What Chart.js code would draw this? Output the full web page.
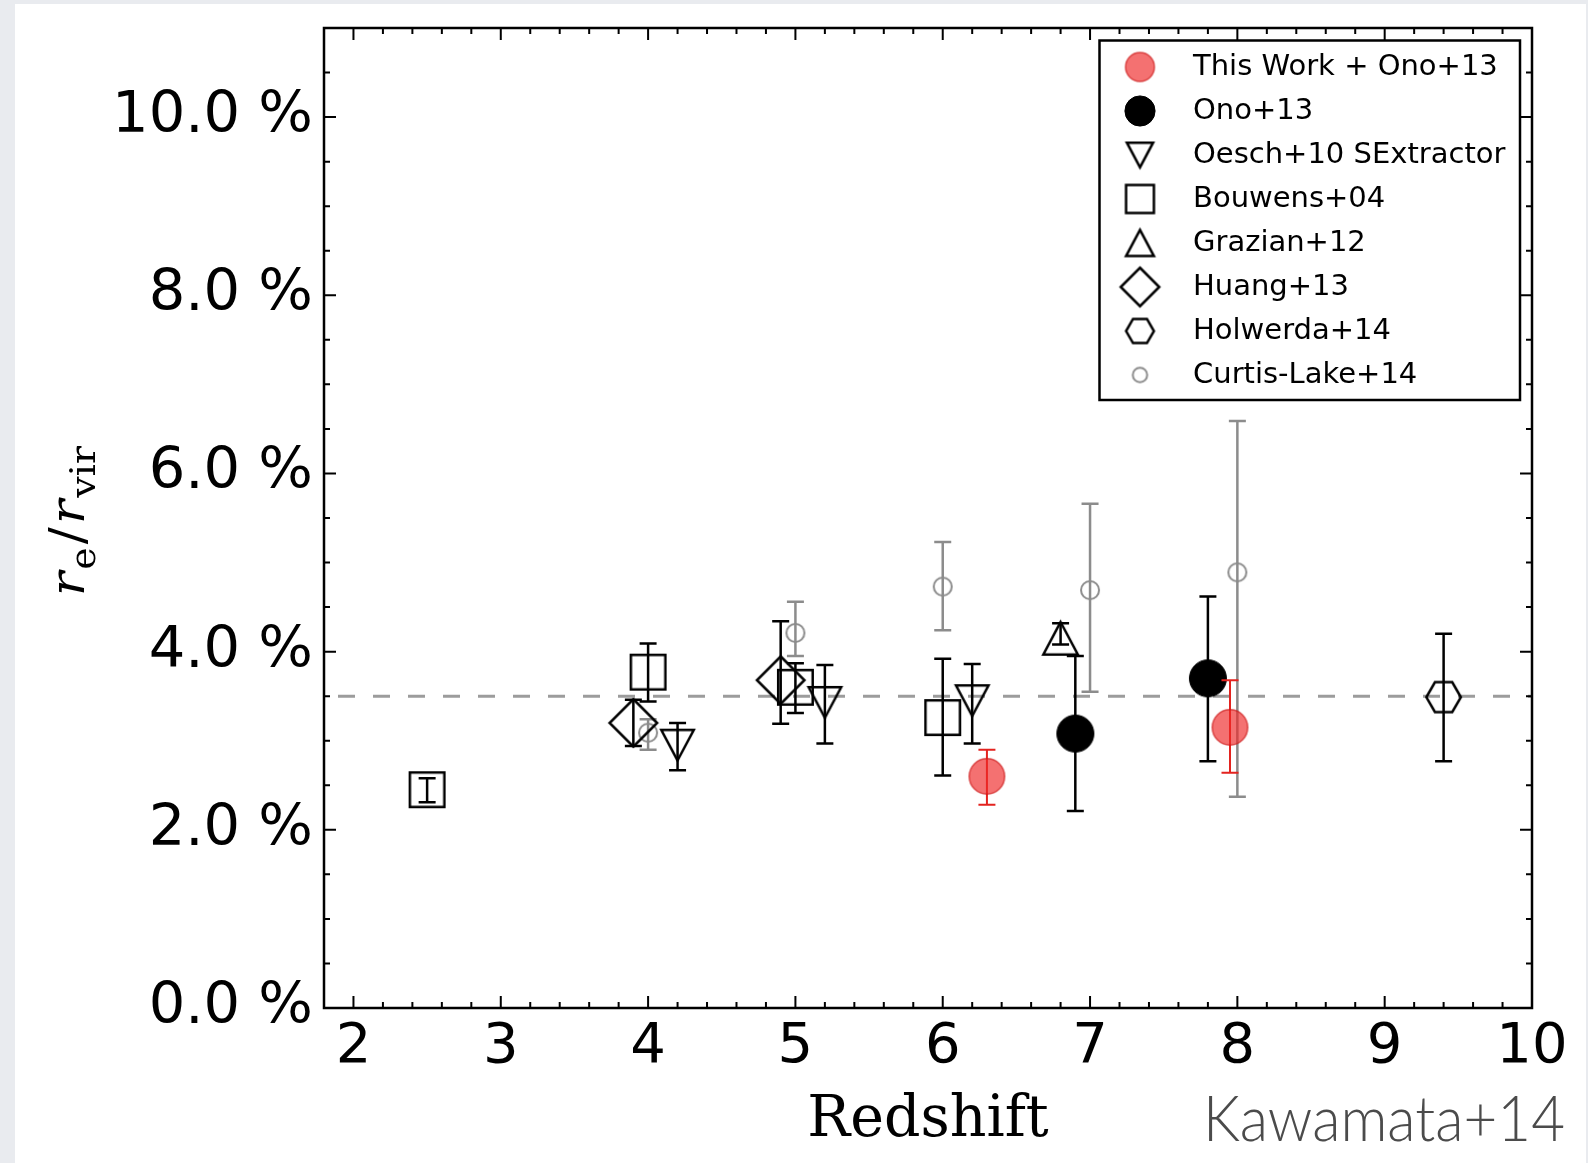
<!DOCTYPE html>
<html>
<head>
<meta charset="utf-8">
<script src="https://cdn.jsdelivr.net/npm/chart.js@4.4.1/dist/chart.umd.min.js"></script>
<style>
  html, body { margin: 0; padding: 0; background: #e9ebef; }
  #panel { position: absolute; left: 15px; top: 4px; width: 1571px; height: 1159px; background: #ffffff; }
  #chart { position: absolute; left: 0; top: 0; }
</style>
</head>
<body>
<div id="panel"></div>
<canvas id="chart" width="1588" height="1163"></canvas>
<script>
// r_e / r_vir (per cent) against redshift; lo/hi are the ends of each error bar.
const thisWorkZ  = [6.3, 7.95];
const thisWorkR  = [2.60, 3.15];
const thisWorkLo = [2.28, 2.64];
const thisWorkHi = [2.90, 3.68];

const onoZ  = [6.9, 7.8];
const onoR  = [3.08, 3.70];
const onoLo = [2.21, 2.77];
const onoHi = [3.95, 4.62];

const oeschZ  = [4.2, 5.2, 6.2];
const oeschR  = [2.95, 3.43, 3.45];
const oeschLo = [2.67, 2.97, 2.97];
const oeschHi = [3.20, 3.85, 3.86];

const bouwensZ  = [2.5, 4.0, 5.0, 6.0];
const bouwensR  = [2.45, 3.77, 3.60, 3.26];
const bouwensLo = [2.31, 3.44, 3.31, 2.61];
const bouwensHi = [2.58, 4.09, 3.87, 3.92];

const grazianZ  = [6.8];
const grazianR  = [4.15];
const grazianLo = [4.08];
const grazianHi = [4.32];

const huangZ  = [3.9, 4.9];
const huangR  = [3.20, 3.68];
const huangLo = [2.94, 3.19];
const huangHi = [3.46, 4.34];

const holwerdaZ  = [9.4];
const holwerdaR  = [3.49];
const holwerdaLo = [2.77];
const holwerdaHi = [4.20];

const curtisZ  = [4.0, 5.0, 6.0, 7.0, 8.0];
const curtisR  = [3.09, 4.21, 4.73, 4.69, 4.89];
const curtisLo = [2.90, 3.95, 4.24, 3.55, 2.37];
const curtisHi = [3.24, 4.56, 5.23, 5.66, 6.59];

// horizontal reference level and axis ranges
const refLevel = 3.5;
const zRange = [1.8, 10];
const rRange = [0, 11];

const legendLabels = [
  'This Work + Ono+13', 'Ono+13', 'Oesch+10 SExtractor', 'Bouwens+04',
  'Grazian+12', 'Huang+13', 'Holwerda+14', 'Curtis-Lake+14'
];

// ---- marker glyphs, drawn once onto small canvases ----
function makeMarker(shape, size, st) {
  const lw = st.lineWidth || 0;
  const dim = Math.ceil(size + 6);
  const cv = document.createElement('canvas');
  cv.width = dim; cv.height = dim;
  const g = cv.getContext('2d');
  g.translate(dim / 2, dim / 2);
  const r = (size - lw) / 2;
  g.beginPath();
  if (shape === 'circle') {
    g.arc(0, 0, r, 0, Math.PI * 2);
  } else if (shape === 'square') {
    g.rect(-r, -r, 2 * r, 2 * r);
  } else if (shape === 'diamond') {
    g.moveTo(0, -r); g.lineTo(r, 0); g.lineTo(0, r); g.lineTo(-r, 0); g.closePath();
  } else if (shape === 'triUp') {
    const h = r * 0.94;
    g.moveTo(0, -h); g.lineTo(r, h); g.lineTo(-r, h); g.closePath();
  } else if (shape === 'triDown') {
    const h = r * 0.94;
    g.moveTo(0, h); g.lineTo(r, -h); g.lineTo(-r, -h); g.closePath();
  } else if (shape === 'hexagon') {
    for (let k = 0; k < 6; k++) {
      const a = k * Math.PI / 3;
      const px = r * Math.cos(a), py = r * Math.sin(a);
      if (k === 0) g.moveTo(px, py); else g.lineTo(px, py);
    }
    g.closePath();
  }
  if (st.fill) { g.fillStyle = st.fill; g.fill(); }
  if (st.stroke) {
    g.lineWidth = lw; g.strokeStyle = st.stroke; g.lineJoin = 'miter'; g.stroke();
  }
  return cv;
}

const styles = [
  { shape: 'circle',  size: 37, st: { fill: 'rgba(238,40,40,0.66)', stroke: 'rgba(205,25,25,0.7)', lineWidth: 1.5 } },
  { shape: 'circle',  size: 38, st: { fill: '#000', stroke: '#000', lineWidth: 1 } },
  { shape: 'triDown', size: 35, st: { stroke: '#000', lineWidth: 2.5 } },
  { shape: 'square',  size: 37, st: { stroke: '#000', lineWidth: 2.5 } },
  { shape: 'triUp',   size: 37, st: { stroke: '#000', lineWidth: 2.5 } },
  { shape: 'diamond', size: 50, st: { stroke: '#000', lineWidth: 2.5 } },
  { shape: 'hexagon', size: 37, st: { stroke: '#000', lineWidth: 2.5 } },
  { shape: 'circle',  size: 20, st: { stroke: '#8c8c8c', lineWidth: 2 } }
];
const plotMarkers = styles.map(s => makeMarker(s.shape, s.size, s.st));
const legendMarkers = styles.map(s => makeMarker(s.shape, s.size * 0.82, s.st));

function points(zs, rs) { return zs.map((z, i) => ({ x: z, y: rs[i] })); }

function series(idx, zs, rs, lo, hi, errColor, errWidth) {
  return {
    label: legendLabels[idx],
    data: points(zs, rs),
    errLow: lo, errHigh: hi, errColor: errColor, errWidth: errWidth,
    pointStyle: plotMarkers[idx],
    pointRadius: styles[idx].size / 2,
    pointHoverRadius: styles[idx].size / 2,
    showLine: false
  };
}

const datasets = [
  series(0, thisWorkZ, thisWorkR, thisWorkLo, thisWorkHi, '#e3231f', 2),
  series(1, onoZ, onoR, onoLo, onoHi, '#000', 2.5),
  series(2, oeschZ, oeschR, oeschLo, oeschHi, '#000', 2.5),
  series(3, bouwensZ, bouwensR, bouwensLo, bouwensHi, '#000', 2.5),
  series(4, grazianZ, grazianR, grazianLo, grazianHi, '#000', 2.5),
  series(5, huangZ, huangR, huangLo, huangHi, '#000', 2.5),
  series(6, holwerdaZ, holwerdaR, holwerdaLo, holwerdaHi, '#000', 2.5),
  series(7, curtisZ, curtisR, curtisLo, curtisHi, '#8c8c8c', 2.5),
  {
    type: 'line',
    label: 'reference',
    data: [{ x: zRange[0], y: refLevel }, { x: zRange[1], y: refLevel }],
    borderColor: '#9c9c9c', borderWidth: 3, borderDash: [17, 18], borderDashOffset: 21,
    pointRadius: 0, showLine: true, fill: false
  }
];

// ---- plugins ----
const CAP = 8.5;
const errorBars = {
  id: 'errorBars',
  beforeDatasetDraw(chart, args) {
    const ds = chart.data.datasets[args.index];
    if (!ds.errLow) return;
    const ctx = chart.ctx, xs = chart.scales.x, ys = chart.scales.y;
    ctx.save();
    ctx.strokeStyle = ds.errColor;
    ctx.lineWidth = ds.errWidth;
    ds.data.forEach((p, i) => {
      const px = xs.getPixelForValue(p.x);
      const y1 = ys.getPixelForValue(ds.errLow[i]);
      const y2 = ys.getPixelForValue(ds.errHigh[i]);
      ctx.beginPath();
      ctx.moveTo(px, y1); ctx.lineTo(px, y2);
      ctx.moveTo(px - CAP, y1); ctx.lineTo(px + CAP, y1);
      ctx.moveTo(px - CAP, y2); ctx.lineTo(px + CAP, y2);
      ctx.stroke();
    });
    ctx.restore();
  }
};

const near = (v, step) => Math.abs(v / step - Math.round(v / step)) < 1e-6;

const frameTicks = {
  id: 'frameTicks',
  afterDatasetsDraw(chart) {
    const ctx = chart.ctx, a = chart.chartArea, xs = chart.scales.x, ys = chart.scales.y;
    ctx.save();
    ctx.strokeStyle = '#000';
    ctx.lineWidth = 2;
    ctx.beginPath();
    xs.ticks.forEach(t => {
      const px = xs.getPixelForValue(t.value);
      if (px <= a.left + 1 || px >= a.right - 1) return;
      const len = near(t.value, 1) ? 12 : 6;
      ctx.moveTo(px, a.bottom); ctx.lineTo(px, a.bottom - len);
      ctx.moveTo(px, a.top); ctx.lineTo(px, a.top + len);
    });
    ys.ticks.forEach(t => {
      const py = ys.getPixelForValue(t.value);
      if (py <= a.top + 1 || py >= a.bottom - 1) return;
      const len = near(t.value, 2) ? 12 : 6;
      ctx.moveTo(a.left, py); ctx.lineTo(a.left + len, py);
      ctx.moveTo(a.right, py); ctx.lineTo(a.right - len, py);
    });
    ctx.stroke();
    ctx.lineWidth = 2.5;
    ctx.strokeRect(a.left, a.top, a.right - a.left, a.bottom - a.top);
    ctx.restore();
  }
};

const legendBox = {
  id: 'legendBox',
  afterDraw(chart) {
    const ctx = chart.ctx;
    const box = { x: 1099.5, y: 40.5, w: 420.5, h: 359.5 };
    ctx.save();
    ctx.fillStyle = '#fff';
    ctx.fillRect(box.x, box.y, box.w, box.h);
    ctx.strokeStyle = '#000';
    ctx.lineWidth = 2.5;
    ctx.strokeRect(box.x, box.y, box.w, box.h);
    ctx.font = '29px "DejaVu Sans"';
    ctx.fillStyle = '#000';
    ctx.textBaseline = 'middle';
    ctx.textAlign = 'left';
    legendLabels.forEach((lab, i) => {
      const cy = 67 + i * 44;
      const m = legendMarkers[i];
      ctx.drawImage(m, 1140 - m.width / 2, cy - m.height / 2);
      ctx.fillText(lab, 1193, cy);
    });
    ctx.restore();
  }
};

const titles = {
  id: 'titles',
  afterDraw(chart) {
    const ctx = chart.ctx, a = chart.chartArea;
    ctx.save();
    ctx.fillStyle = '#000';
    // x-axis title
    ctx.font = '57px "DejaVu Serif"';
    ctx.textAlign = 'center';
    ctx.textBaseline = 'alphabetic';
    ctx.fillText('Redshift', (a.left + a.right) / 2, 1136);

    // y-axis title  r_e / r_vir, rotated
    const parts = [
      { t: 'r', f: 'italic 48px "DejaVu Serif"', dy: 0, gap: 2 },
      { t: 'e', f: '36px "DejaVu Serif"', dy: 11, gap: 3 },
      { t: '/', f: '48px "DejaVu Serif"', dy: 0, gap: 3 },
      { t: 'r', f: 'italic 48px "DejaVu Serif"', dy: 0, gap: 2 },
      { t: 'vir', f: '36px "DejaVu Serif"', dy: 11, gap: 0 }
    ];
    let total = 0;
    parts.forEach(p => { ctx.font = p.f; p.w = ctx.measureText(p.t).width; total += p.w + p.gap; });
    const target = 150;
    ctx.translate(84, 521);
    ctx.rotate(-Math.PI / 2);
    ctx.scale(target / total, 1);
    ctx.textAlign = 'left';
    let u = -total / 2;
    parts.forEach(p => {
      ctx.font = p.f;
      ctx.fillText(p.t, u, p.dy);
      u += p.w + p.gap;
    });
    ctx.restore();

    // citation in the lower right corner
    ctx.save();
    ctx.fillStyle = '#4b4b4b';
    ctx.font = '300 64px Lato';
    const cite = 'Kawamata+14';
    const w = ctx.measureText(cite).width;
    ctx.translate(1203, 1141);
    ctx.scale(362 / w, 1);
    ctx.textAlign = 'left';
    ctx.fillText(cite, 0, 0);
    ctx.restore();
  }
};

new Chart(document.getElementById('chart').getContext('2d'), {
  type: 'scatter',
  data: { datasets: datasets },
  options: {
    responsive: false,
    animation: false,
    devicePixelRatio: 1,
    events: [],
    layout: { padding: { left: 0, top: 28, right: 56, bottom: 0 } },
    plugins: { legend: { display: false }, tooltip: { enabled: false } },
    scales: {
      x: {
        type: 'linear', min: zRange[0], max: zRange[1],
        grid: { display: false }, border: { display: false },
        ticks: {
          stepSize: 0.2, autoSkip: false, maxRotation: 0, minRotation: 0,
          padding: -2, color: '#000', font: { family: '"DejaVu Sans"', size: 56, lineHeight: 1.2 },
          callback: v => near(v, 1) ? String(Math.round(v)) : ''
        },
        afterFit: s => { s.height = 155; s.paddingLeft = 0; s.paddingRight = 0; }
      },
      y: {
        type: 'linear', min: rRange[0], max: rRange[1],
        grid: { display: false }, border: { display: false },
        ticks: {
          stepSize: 0.5, autoSkip: false,
          padding: 3, color: '#000', font: { family: '"DejaVu Sans"', size: 57.5, lineHeight: 1.2 },
          callback: v => near(v, 2) ? (Math.round(v * 10) / 10).toFixed(1) + ' %' : ''
        },
        afterFit: s => { s.width = 324; s.paddingTop = 0; s.paddingBottom = 0; }
      }
    }
  },
  plugins: [errorBars, frameTicks, legendBox, titles]
});
</script>
</body>
</html>
